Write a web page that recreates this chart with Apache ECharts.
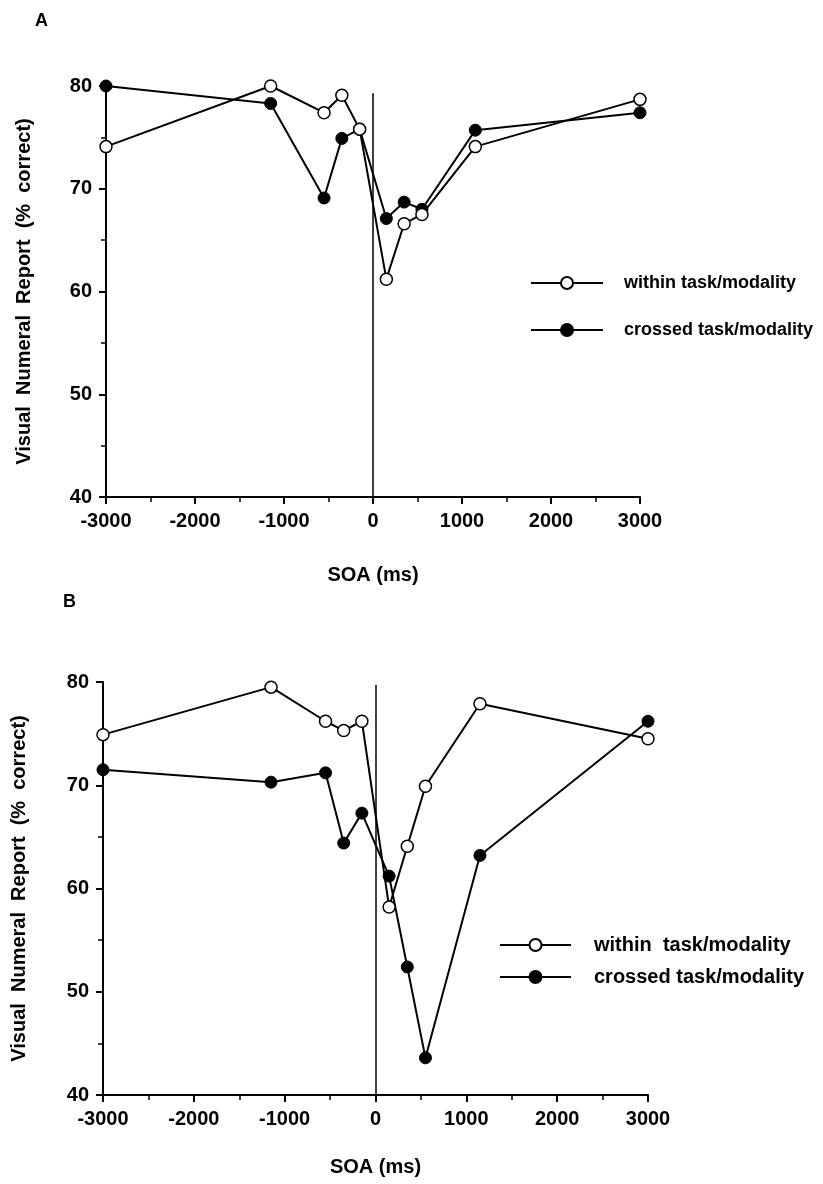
<!DOCTYPE html>
<html>
<head>
<meta charset="utf-8">
<script src="https://cdn.jsdelivr.net/npm/echarts@6/dist/echarts.min.js"></script>
<style>
html,body{margin:0;padding:0;background:#fff;}
#chart{width:823px;height:1184px;}
</style>
</head>
<body>
<div id="chart"></div>
<script>
// SOA values (ms)
const soa = [-3000, -1150, -550, -350, -150, 150, 350, 550, 1150, 3000];
// Panel A
const aWithin  = [74.1, 80.0, 77.4, 79.1, 75.8, 61.2, 66.6, 67.5, 74.1, 78.7];
const aCrossed = [80.0, 78.3, 69.1, 74.9, 75.8, 67.1, 68.7, 68.0, 75.7, 77.4];
// Panel B
const bWithin  = [74.9, 79.5, 76.2, 75.3, 76.2, 58.2, 64.1, 69.9, 77.9, 74.5];
const bCrossed = [71.5, 70.3, 71.2, 64.4, 67.3, 61.2, 52.4, 43.6, 63.2, 76.2];
// Labels
const panelLabels = ['A', 'B'];
const nameWithinA = 'within task/modality';
const nameCrossedA = 'crossed task/modality';
const nameWithinB = 'within  task/modality';
const nameCrossedB = 'crossed task/modality ';
const xName = 'SOA (ms)';
const yName = 'Visual  Numeral  Report  (%  correct)';

const FONT = '"Liberation Sans", Arial, Helvetica, sans-serif';
const pairs = (xs, ys) => xs.map((x, i) => [x, ys[i]]);

function xAxis(gridIndex, gap) {
  return {
    type: 'value', gridIndex, min: -3000, max: 3000, interval: 1000,
    name: xName, nameLocation: 'middle', nameGap: gap,
    nameTextStyle: {fontFamily: FONT, fontWeight: 'bold', fontSize: 20, color: '#000'},
    axisLine: {show: true, onZero: false, lineStyle: {color: '#000', width: 2}},
    axisTick: {show: true, length: 7, lineStyle: {color: '#000', width: 2}},
    minorTick: {show: true, splitNumber: 2, length: 5, lineStyle: {color: '#000', width: 1.5}},
    axisLabel: {fontFamily: FONT, fontWeight: 'bold', fontSize: 20, color: '#000', margin: 14,
                formatter: v => String(v)},
    splitLine: {show: false}
  };
}
function yAxis(gridIndex, gap) {
  return {
    type: 'value', gridIndex, min: 40, max: 80, interval: 10,
    name: yName, nameLocation: 'middle', nameGap: gap, nameRotate: 90,
    nameTextStyle: {fontFamily: FONT, fontWeight: 'bold', fontSize: 20, color: '#000'},
    axisLine: {show: true, onZero: false, lineStyle: {color: '#000', width: 2}},
    axisTick: {show: true, length: 7, lineStyle: {color: '#000', width: 2}},
    minorTick: {show: true, splitNumber: 2, length: 5, lineStyle: {color: '#000', width: 1.5}},
    axisLabel: {fontFamily: FONT, fontWeight: 'bold', fontSize: 20, color: '#000', margin: 14},
    splitLine: {show: false}
  };
}
function series(name, idx, data, open, markTop) {
  const s = {
    name, type: 'line', xAxisIndex: idx, yAxisIndex: idx,
    data, symbol: 'circle', symbolSize: 12,
    lineStyle: {color: '#000', width: 2},
    itemStyle: open ? {color: '#fff', borderColor: '#000', borderWidth: 1.5}
                    : {color: '#000', borderColor: '#000', borderWidth: 1},
    z: open ? 3 : 2
  };
  if (markTop) {
    s.markLine = {
      silent: true, symbol: ['none', 'none'], label: {show: false},
      lineStyle: {color: '#000', width: 1.5, type: 'solid'},
      data: [[{coord: [0, 40]}, {coord: [0, markTop]}]]
    };
  }
  return s;
}

const chart = echarts.init(document.getElementById('chart'));
chart.setOption({
  animation: false,
  backgroundColor: '#fff',
  title: [
    {text: panelLabels[0], left: 35, top: 12, padding: 0, textStyle: {fontFamily: FONT, fontWeight: 'bold', fontSize: 18, color: '#000'}},
    {text: panelLabels[1], left: 63, top: 593, padding: 0, textStyle: {fontFamily: FONT, fontWeight: 'bold', fontSize: 18, color: '#000'}}
  ],
  grid: [
    {left: 106, top: 86, width: 534, height: 411},
    {left: 103, top: 682, width: 545, height: 413}
  ],
  xAxis: [xAxis(0, 68), xAxis(1, 62)],
  yAxis: [yAxis(0, 72), yAxis(1, 74)],
  legend: [
    {data: [nameWithinA, nameCrossedA], orient: 'vertical', left: 530, top: 274, padding: 0,
     itemWidth: 72, itemHeight: 15, itemGap: 29, selectedMode: false,
     textStyle: {fontFamily: FONT, fontWeight: 'bold', fontSize: 18, lineHeight: 18, color: '#000', padding: [0, 0, 0, 16]}},
    {data: [nameWithinB, nameCrossedB], orient: 'vertical', left: 499, top: 935, padding: 0,
     itemWidth: 71, itemHeight: 15, itemGap: 12, selectedMode: false,
     textStyle: {fontFamily: FONT, fontWeight: 'bold', fontSize: 20, lineHeight: 20, color: '#000', padding: [0, 0, 0, 18]}}
  ],
  series: [
    series(nameCrossedA, 0, pairs(soa, aCrossed), false, 79.3),
    series(nameWithinA, 0, pairs(soa, aWithin), true),
    series(nameCrossedB, 1, pairs(soa, bCrossed), false, 79.7),
    series(nameWithinB, 1, pairs(soa, bWithin), true)
  ]
});
</script>
</body>
</html>
